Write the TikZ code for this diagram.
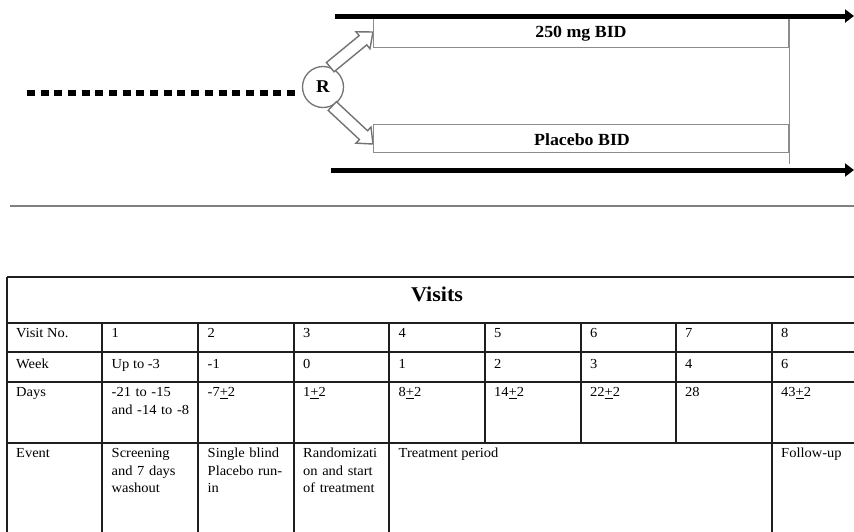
\documentclass[tikz,border=0pt]{standalone}
\usepackage{fontspec}
\setmainfont{Liberation Serif}[FakeStretch=1.05]
\usetikzlibrary{calc,arrows.meta}
\tikzset{
  armbox/.style={draw=black!45, line width=1.3pt, inner sep=0pt, minimum width=415pt, anchor=north west},
  armline/.style={draw=black!45, line width=1.3pt},
  thickarrow/.style={line width=5pt, -{Triangle[length=9pt,width=13pt]}},
  hollow/.style={draw=black!55, line width=1.4pt, fill=white, line join=miter},
  dotline/.style={line width=6.5pt, dash pattern=on 8pt off 5.68pt},
  gridline/.style={draw=black!88, line width=2pt},
  sepline/.style={draw=black!50, line width=2pt},
  cell/.style={anchor=base west, inner sep=0pt, font=\fontsize{13.8}{17.8}\selectfont},
  mcell/.style={cell, text width=90pt, align=left},
  armlabel/.style={anchor=base, inner sep=0pt, font=\fontsize{17}{20}\selectfont\bfseries},
}
\newcommand\hollowarrow[2]{%
  \path ($(#2)!13pt!(#1)$) coordinate (hb);
  \draw[hollow] ($(#1)!6pt!90:(#2)$) -- ($(hb)!6pt!-90:(#1)$) -- ($(hb)!11pt!-90:(#1)$)
     -- (#2) -- ($(hb)!11pt!90:(#1)$) -- ($(hb)!6pt!90:(#1)$) -- ($(#1)!6pt!-90:(#2)$) -- cycle;}
\begin{document}
\begin{tikzpicture}[x=1pt,y=-1pt]
\useasboundingbox (0,0) rectangle (854,531);
\fill[white] (0,0) rectangle (854,531);
\clip (0,0) rectangle (854,531);

% randomisation circle and run-in line
\node[circle, draw=black!55, line width=1.3pt, minimum size=41pt, inner sep=0pt,
      font=\fontsize{18}{18}\selectfont\bfseries] (R) at (323,87) {R};
\coordinate (d0) at (27,93);
\draw[dotline] (d0) -- ([xshift=-7pt]R.west |- d0);

% arms
\coordinate (a1) at (373,16);
\coordinate (a2) at (373,124);
\coordinate (arm1tip) at (373,32);
\coordinate (arm2tip) at (373,144);
\hollowarrow{R.70}{arm1tip}
\hollowarrow{R.-64}{arm2tip}
\node[armbox, minimum height=30.5pt] (arm1) at (a1) {};
\node[armbox, minimum height=28pt] (arm2) at (a2) {};
\draw[armline] (arm1.north east) -- ($(arm2.south east)+(0,11)$);
\node[armlabel] (lab1) at (581,37.7) {250 mg BID};
\node[armlabel] (lab2) at (582,145) {Placebo BID};

% period lines
\coordinate (t0) at (335,16); \coordinate (t1) at (854,16);
\coordinate (b0) at (331,170); \coordinate (b1) at (854,170);
\draw[thickarrow] (t0) -- (t1);
\draw[thickarrow] (b0) -- (b1);

% separator
\coordinate (s0) at (10,205.7); \coordinate (s1) at (860,205.7);
\draw[sepline] (s0) -- (s1);

% table grid
\foreach \y in {277.3,323.3,352.3,381.7,442.7} \draw[gridline] (7,\y) -- (880,\y);
\draw[gridline] (7,277.3) -- (7,540);
\foreach \x in {102.3,198.3,294,389.3,771.7} \draw[gridline] (\x,323.3) -- (\x,540);
\foreach \x in {485,580.7,676} \draw[gridline] (\x,323.3) -- (\x,442.7);

\node[anchor=base, inner sep=0pt, font=\fontsize{21}{24}\selectfont\bfseries] (title) at (437,301) {Visits};

% row 1
\node[cell] (r1c0) at (16,337.5) {Visit No.};
\node[cell] (r1c1) at (111.5,337.5) {1};
\node[cell] (r1c2) at (207.5,337.5) {2};
\node[cell] (r1c3) at (303,337.5) {3};
\node[cell] (r1c4) at (398.5,337.5) {4};
\node[cell] (r1c5) at (494,337.5) {5};
\node[cell] (r1c6) at (590,337.5) {6};
\node[cell] (r1c7) at (685,337.5) {7};
\node[cell] (r1c8) at (781,337.5) {8};
% row 2
\node[cell] (r2c0) at (16,368) {Week};
\node[cell] (r2c1) at (111.5,368) {Up to -3};
\node[cell] (r2c2) at (207.5,368) {-1};
\node[cell] (r2c3) at (303,368) {0};
\node[cell] (r2c4) at (398.5,368) {1};
\node[cell] (r2c5) at (494,368) {2};
\node[cell] (r2c6) at (590,368) {3};
\node[cell] (r2c7) at (685,368) {4};
\node[cell] (r2c8) at (781,368) {6};
% row 3
\node[cell] (r3c0) at (16,396.7) {Days};
\node[mcell] (r3c1) at (111.5,396.7) {-21 to -15\\and -14 to -8};
\node[cell] (r3c2) at (207.5,396.7) {-7\underline{+}2};
\node[cell] (r3c3) at (303,396.7) {1\underline{+}2};
\node[cell] (r3c4) at (398.5,396.7) {8\underline{+}2};
\node[cell] (r3c5) at (494,396.7) {14\underline{+}2};
\node[cell] (r3c6) at (590,396.7) {22\underline{+}2};
\node[cell] (r3c7) at (685,396.7) {28};
\node[cell] (r3c8) at (781,396.7) {43\underline{+}2};
% row 4
\node[cell] (r4c0) at (16,457.3) {Event};
\node[mcell] (r4c1) at (111.5,457.3) {Screening\\and 7 days\\washout};
\node[mcell] (r4c2) at (207.5,457.3) {Single blind\\Placebo run-\\in};
\node[mcell] (r4c3) at (303,457.3) {Randomizati\\on and start\\of treatment};
\node[cell] (r4c4) at (398.5,457.3) {Treatment period};
\node[cell] (r4c8) at (781,457.3) {Follow-up};
\end{tikzpicture}
\end{document}
